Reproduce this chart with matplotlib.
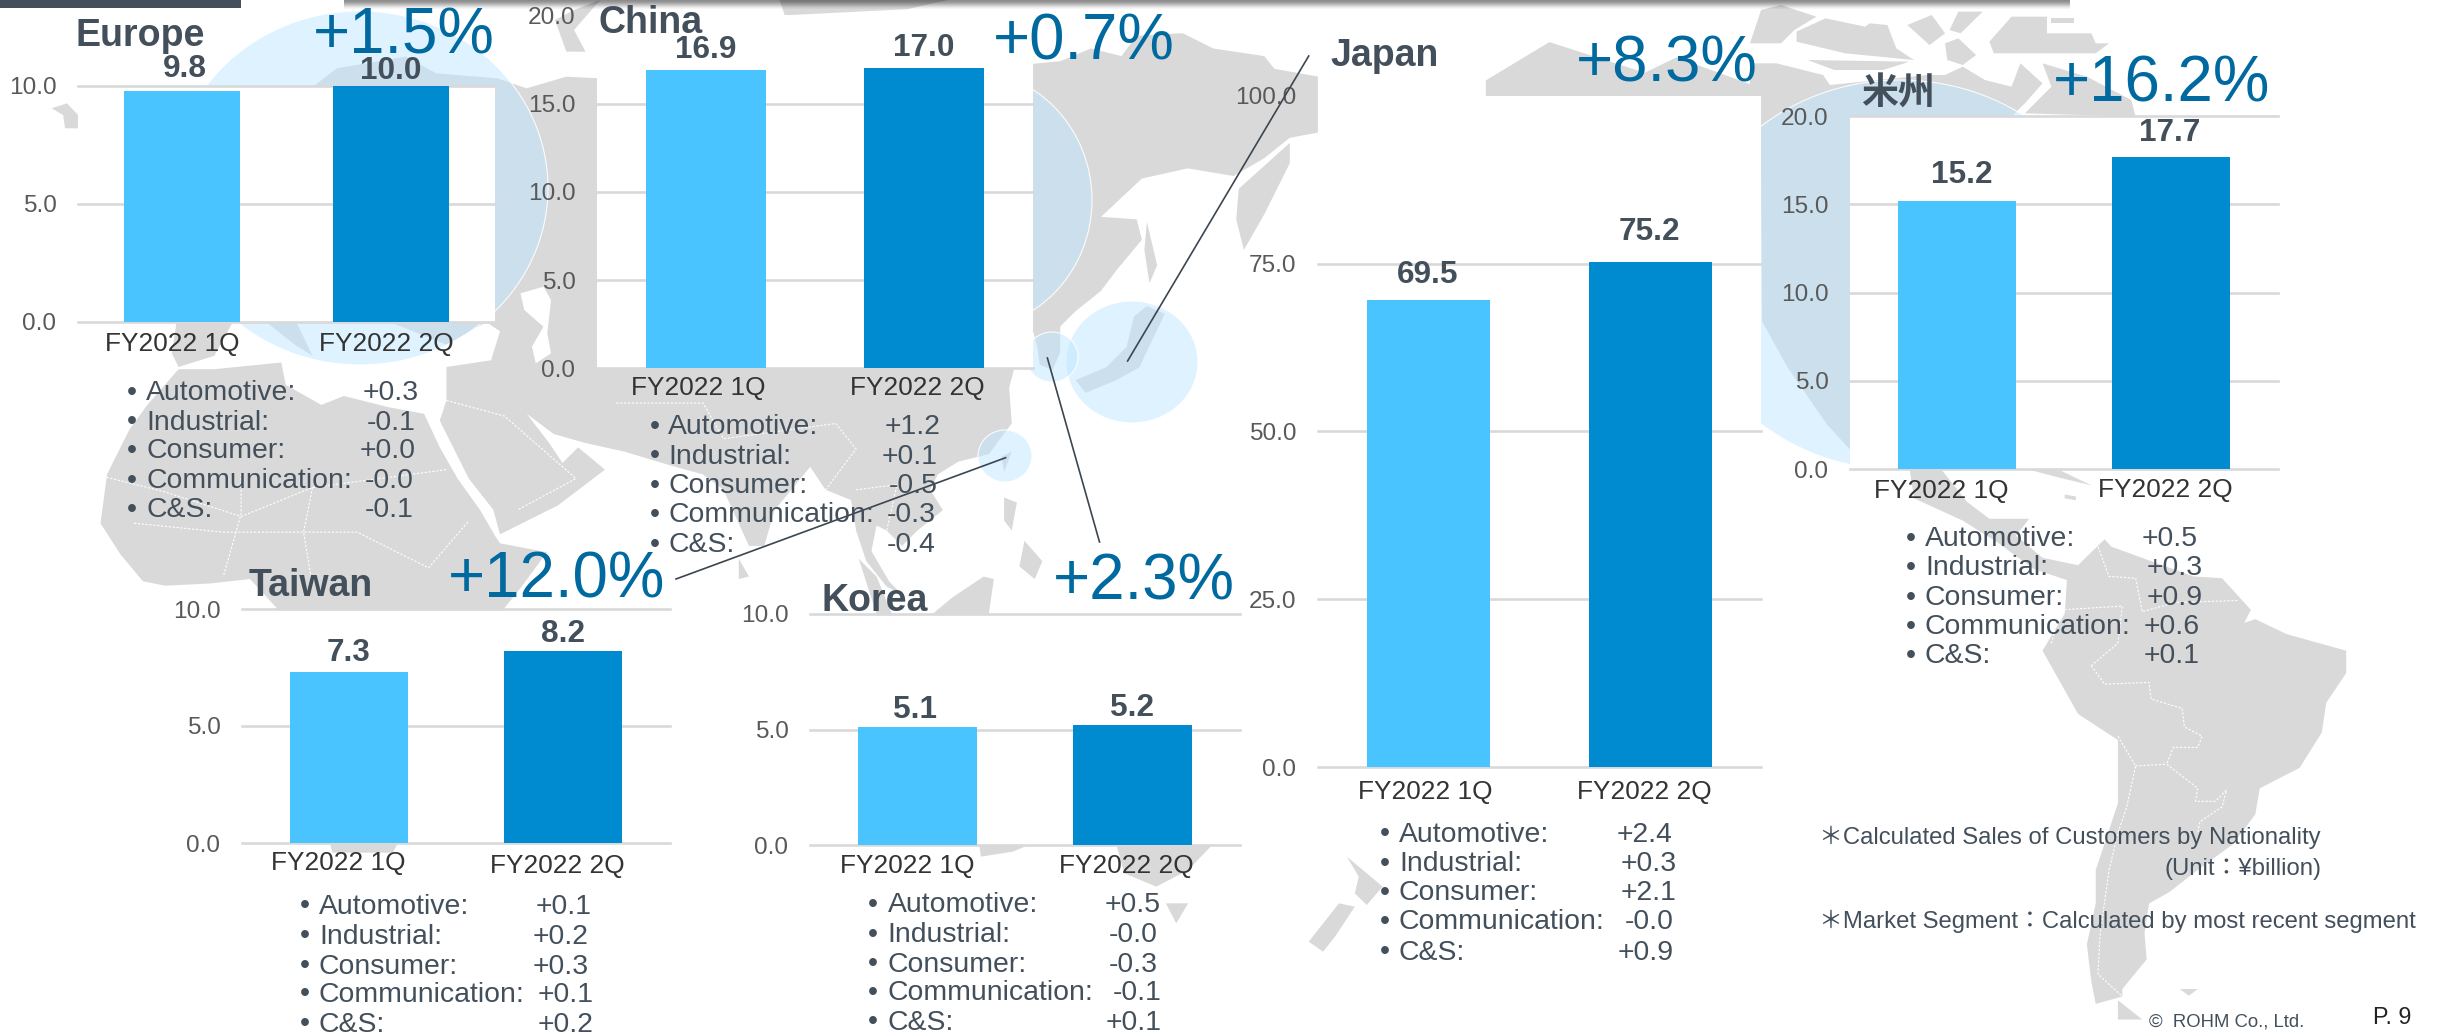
import matplotlib
matplotlib.use("Agg")
import matplotlib.pyplot as plt
from matplotlib.patches import Ellipse, Polygon, Rectangle

# ---------- data ----------
quarters = ["FY2022 1Q", "FY2022 2Q"]
segments = ["Automotive:", "Industrial:", "Consumer:", "Communication:", "C&S:"]

europe_sales = [9.8, 10.0]
china_sales = [16.9, 17.0]
japan_sales = [69.5, 75.2]
americas_sales = [15.2, 17.7]
taiwan_sales = [7.3, 8.2]
korea_sales = [5.1, 5.2]

europe_seg = ["+0.3", "-0.1", "+0.0", "-0.0", "-0.1"]
china_seg = ["+1.2", "+0.1", "-0.5", "-0.3", "-0.4"]
japan_seg = ["+2.4", "+0.3", "+2.1", "-0.0", "+0.9"]
americas_seg = ["+0.5", "+0.3", "+0.9", "+0.6", "+0.1"]
taiwan_seg = ["+0.1", "+0.2", "+0.3", "+0.1", "+0.2"]
korea_seg = ["+0.5", "-0.0", "-0.3", "-0.1", "+0.1"]

# ---------- style ----------
W, H = 2445, 1033
GREY, TXT, TICK, CAT = "#D9D9D9", "#434F5B", "#595959", "#333333"
BAR1, BAR2, PCT = "#4AC4FF", "#008BD0", "#00699F"
SANS = ["Liberation Sans", "Noto Sans CJK JP", "DejaVu Sans"]
plt.rcParams["font.family"] = SANS

fig = plt.figure(figsize=(W / 100, H / 100), dpi=100, facecolor="white")


def T(x, y, s, size, color=TXT, ha="left", va="center", weight="normal", family=None):
    fig.text(x / W, 1 - y / H, s, fontsize=size, color=color, ha=ha, va=va,
             fontweight=weight, family=family or SANS, zorder=10)


# ---------- decorative world map, in pixel space ----------
bg = fig.add_axes([0, 0, 1, 1], zorder=0)
bg.set_xlim(0, W)
bg.set_ylim(H, 0)
bg.axis("off")

Z5 = lambda p: [(x / 2.24, y / 2.24 + 300) for x, y in p]
Z6 = lambda p: [(550 + x / 1.96, y / 1.96) for x, y in p]
Z7 = lambda p: [(1750 + x / 2.256, y / 3) for x, y in p]
Z8 = lambda p: [(1750 + x / 2.256, 450 + y / 2.69) for x, y in p]
Z9 = lambda p: [(x / 2.613, y / 3) for x, y in p]
Z3 = lambda p: [(x / 1.254, 520 + y / 3) for x, y in p]
Z4 = lambda p: [(1200 + x / 1.2594, 520 + y / 3) for x, y in p]
Z2 = lambda p: [(1200 + x / 1.2594, y / 2.613) for x, y in p]

eurasia = (
    Z9([(820, 258), (880, 205), (1060, 170), (1140, 220), (1300, 235), (1376, 265), (1480, 230), (1568, 235)])
    + Z6([(300, 60), (947, 125), (1000, 120), (1060, 95), (1120, 110), (1150, 70), (1240, 65), (1300, 95),
          (1400, 110), (1420, 135), (1505, 150), (1505, 260), (1450, 270), (1400, 310), (1340, 345), (1250, 330),
          (1160, 350), (1080, 425), (1150, 430), (1160, 470), (1110, 530), (1080, 570), (1030, 610), (1000, 640),
          (1000, 690), (985, 725), (960, 715), (955, 680), (947, 650), (925, 690), (910, 722), (900, 760), (905, 830),
          (860, 890), (800, 905), (760, 930), (745, 960), (770, 1000), (720, 1040), (690, 1070), (660, 1040),
          (640, 1030), (630, 1080), (665, 1140), (690, 1165), (660, 1150), (620, 1100), (600, 1040), (590, 980),
          (540, 960), (510, 915), (440, 1000), (420, 1070), (390, 1070), (340, 960), (300, 930)])
    + Z5([(1500, 370), (1400, 340), (1310, 320), (1240, 300), (1180, 255), (1230, 320), (1260, 365), (1295, 330),
          (1355, 380), (1250, 460), (1120, 525), (1105, 470), (1050, 400), (1010, 320), (985, 270), (1000, 225), (1000, 150),
          (1100, 135), (1120, 70), (1090, 50)])
)
africa = Z5([(400, 155), (480, 155), (630, 140), (640, 190), (720, 235), (770, 215), (870, 240), (950, 255),
             (985, 330), (1025, 400), (1075, 470), (1110, 530), (1120, 545), (1225, 565), (1170, 640), (1130, 690), (1000, 1000),
             (880, 1238), (745, 1238), (620, 800), (620, 690), (560, 625), (470, 635), (370, 640), (320, 630),
             (270, 570), (225, 500), (240, 390), (290, 290), (330, 235)])
islands = [
    Z5([(395, 52), (520, 52), (480, 125), (400, 150), (385, 120)]),
    Z5([(600, 52), (665, 52), (700, 125), (660, 100)]),
    Z5([(880, 52), (1085, 52), (1000, 100), (950, 80)]),
    Z9([(135, 325), (175, 310), (204, 345), (204, 385), (170, 385), (165, 345)]),
    Z9([(1450, 60), (1500, 30), (1568, 0), (1500, 90), (1530, 155), (1480, 155)]),
    Z6([(450, 0), (780, 0), (700, 18), (460, 30)]),
    Z6([(1345, 430), (1350, 370), (1450, 280), (1450, 320), (1400, 420), (1360, 490)]),
    Z6([(1170, 435), (1190, 520), (1175, 555), (1165, 490)]),
    Z6([(1030, 745), (1090, 720), (1130, 680), (1145, 620), (1170, 600), (1205, 615), (1155, 720), (1110, 745), (1050, 770)]),
    Z6([(905, 885), (890, 925), (885, 895)]),
    Z6([(890, 975), (915, 985), (905, 1040), (890, 1020)]),
    Z6([(930, 1060), (965, 1100), (950, 1135), (920, 1110)]),
    Z6([(750, 1203), (790, 1170), (850, 1130), (870, 1135), (860, 1203)]),
    Z6([(605, 1095), (640, 1130), (670, 1203), (640, 1203)]),
    Z6([(370, 1095), (390, 1130), (370, 1135)]),
    # Alaska / Canada above the Japan panel
    Z2([(360, 210), (440, 110), (560, 190), (600, 150), (706, 230), (706, 255), (360, 255)]),
    # North America behind the Americas bubble
    Z2([(706, 280), (830, 280), (830, 1200), (790, 1110), (740, 960), (708, 840)]),
    # Canadian Arctic
    Z7([(25, 30), (70, 15), (150, 50), (100, 90), (70, 130), (0, 130)]),
    Z7([(105, 95), (170, 55), (260, 80), (270, 70), (310, 75), (330, 145), (370, 180), (215, 160), (105, 125)]),
    Z7([(130, 180), (360, 185), (300, 210), (190, 210)]),
    Z7([(0, 190), (60, 190), (165, 225), (180, 255), (400, 225), (440, 225), (480, 200), (530, 240), (590, 260),
        (610, 190), (660, 250), (620, 310), (590, 350), (25, 350), (0, 290)]),
    Z7([(540, 125), (590, 50), (670, 50), (670, 100), (770, 100), (780, 130), (810, 130), (780, 160), (700, 160), (550, 160)]),
    Z7([(440, 130), (470, 115), (510, 165), (480, 195), (445, 180)]),
    Z7([(355, 75), (410, 45), (440, 100), (405, 135)]),
    Z7([(450, 90), (470, 35), (525, 35), (475, 100)]),
    Z7([(680, 55), (730, 55), (730, 70), (680, 70)]),
    Z7([(620, 340), (680, 260), (660, 190), (760, 230), (860, 300), (870, 350)]),
    # Caribbean, Tierra del Fuego, Falklands
    Z8([(620, 50), (700, 55), (770, 95), (700, 75)]),
    Z8([(710, 120), (735, 125), (735, 135), (710, 130)]),
    Z8([(830, 1480), (885, 1532), (830, 1532)]),
    Z8([(970, 1450), (1010, 1450), (990, 1468)]),
    # Australia, Tasmania, New Zealand
    Z3([(1228, 975), (1290, 975), (1270, 995), (1230, 1010)]),
    Z3([(1400, 975), (1520, 975), (1490, 1050), (1450, 1100), (1410, 1060)]),
    Z3([(1462, 1150), (1490, 1150), (1475, 1210)]),
    Z4([(185, 1010), (215, 1070), (230, 1100), (210, 1155), (195, 1120), (200, 1070)]),
    Z4([(175, 1150), (195, 1160), (170, 1250), (155, 1295), (137, 1265)]),
]
americas = Z8([(360, 50), (430, 50), (490, 140), (540, 185), (630, 185), (600, 230), (660, 290), (740, 310), (800, 240),
               (815, 260), (1000, 340), (1065, 345), (1130, 430), (1115, 465), (1140, 455), (1210, 495), (1345, 540),
               (1345, 600), (1300, 680), (1290, 760), (1240, 855), (1150, 910), (1140, 980), (1090, 1060), (1010, 1130),
               (945, 1190), (900, 1220), (890, 1300), (895, 1370), (840, 1450), (840, 1470), (780, 1490), (770, 1430),
               (760, 1330), (780, 1220), (780, 1130), (830, 950), (830, 780), (740, 710), (660, 540), (710, 440),
               (715, 350), (640, 320), (560, 250), (480, 190), (370, 130)])
for poly in [eurasia, africa, americas] + islands:
    bg.add_patch(Polygon(poly, closed=True, fc=GREY, ec="none", zorder=1))
# Caspian Sea
bg.add_patch(Polygon(Z9([(1360, 880), (1420, 860), (1440, 900), (1430, 1000), (1440, 1060), (1400, 1090), (1390, 1040),
                         (1420, 980), (1370, 930)]), closed=True, fc="white", ec="none", zorder=1.1))

borders = [
    Z8([(770, 580), (800, 630), (900, 625), (905, 670), (975, 695), (980, 745), (1020, 770), (1010, 800), (955, 800),
        (940, 845), (1010, 910), (1005, 945), (1050, 945), (1075, 915), (1065, 960), (1015, 1000), (1010, 1030)]),
    Z8([(830, 770), (870, 850), (850, 960), (830, 1030), (810, 1130), (790, 1300), (785, 1410), (840, 1470)]),
    Z8([(870, 850), (940, 845)]),
    Z8([(785, 260), (810, 340), (870, 345), (885, 435), (960, 410), (1100, 405)]),
    Z8([(680, 520), (700, 430), (840, 420), (830, 520), (770, 580)]),
    Z5([(230, 395), (370, 430), (540, 485), (700, 420), (1000, 380)]),
    Z5([(300, 500), (500, 520), (690, 520), (800, 520), (960, 600), (1050, 495)]),
    Z5([(540, 390), (540, 480), (500, 620)]),
    Z5([(700, 420), (680, 520), (700, 640)]),
    Z5([(1000, 225), (1130, 260), (1290, 400), (1160, 470)]),
    Z6([(130, 790), (300, 790), (340, 860), (560, 830), (600, 880), (540, 960)]),
    Z6([(600, 960), (680, 950), (660, 1040)]),
]
for b in borders:
    bg.plot(*zip(*b), color="white", lw=0.8, ls=(0, (2, 1.5)), zorder=1.2)

# market bubbles
for cx, cy, rx, ry in [(360, 188, 188, 177), (967, 200, 125, 130), (1132, 362, 66, 61), (1052, 357, 26, 25),
                       (1005, 456, 27, 26), (1900, 275, 215, 195)]:
    bg.add_patch(Ellipse((cx, cy), 2 * rx, 2 * ry, fc=(0.75, 0.906, 1.0, 0.5), ec=(1, 1, 1, 0.9), lw=0.8, zorder=2))

# header bars
bg.add_patch(Rectangle((0, 0), 241, 8, fc=TXT, ec="none", zorder=3))
for i, a in enumerate([0.45, 0.42, 0.38, 0.32, 0.26, 0.2, 0.13, 0.08, 0.04]):
    bg.add_patch(Rectangle((344, i), 1726, 1, fc="black", alpha=a, ec="none", zorder=3))


# ---------- charts ----------
def chart(box, sales, ymax, step, hide_top=False):
    x0, y0, x1, y1 = box
    ax = fig.add_axes([x0 / W, 1 - y1 / H, (x1 - x0) / W, (y1 - y0) / H], zorder=1, facecolor="white")
    ax.bar([0, 1], sales, width=0.555, color=[BAR1, BAR2], zorder=3)
    ax.set_xlim(-0.5, 1.5)
    ax.set_ylim(0, ymax)
    ticks = [step * i for i in range(int(round(ymax / step)) + 1)]
    ax.set_yticks(ticks, [f"{t:.1f}" for t in ticks])
    ax.set_xticks([])
    ax.tick_params(axis="y", length=0, pad=15.5, labelsize=17.6, labelcolor=TICK)
    ax.grid(axis="y", color=GREY, lw=1.9, zorder=1)
    ax.set_axisbelow(True)
    for g in ax.get_ygridlines():
        g.set_clip_on(False)
    if hide_top:
        ax.get_ygridlines()[-1].set_visible(False)
    for s in ax.spines.values():
        s.set_visible(False)
    return ax


chart((78, 86, 495, 322), europe_sales, 10, 5)
chart((597, 15.3, 1033, 368.5), china_sales, 20, 5, hide_top=True)
chart((1318, 95.7, 1761, 767), japan_sales, 100, 25, hide_top=True)
chart((1850, 116, 2278, 469), americas_sales, 20, 5)
chart((242, 609, 670, 843), taiwan_sales, 10, 5)
chart((810, 614, 1240, 845), korea_sales, 10, 5)

# region titles
T(75.5, 46, "Europe", 27, va="baseline", weight="bold")
T(599, 33, "China", 27, va="baseline", weight="bold")
T(1330, 66, "Japan", 27, va="baseline", weight="bold")
T(1861, 105, "米州", 26.6, va="baseline", weight="bold", family=["Noto Sans CJK JP"])
T(249, 595.5, "Taiwan", 27, va="baseline", weight="bold")
T(822, 611, "Korea", 27, va="baseline", weight="bold")

# growth rates
for x, y, s in [(313, 53, "+1.5%"), (993, 60, "+0.7%"), (1576, 82, "+8.3%"), (2053, 101, "+16.2%"),
                (448, 597, "+12.0%"), (1053, 599.5, "+2.3%")]:
    T(x, y, s, 45.8, color=PCT, va="baseline")

# bar value labels
for (x1, y1, x2, y2), vals in [((185, 69, 391, 71), europe_sales), ((705.6, 49.5, 923.5, 48), china_sales),
                               ((1428, 274.6, 1649, 232), japan_sales), ((1962, 175, 2170, 133), americas_sales),
                               ((348, 653, 562.5, 634), taiwan_sales), ((915, 710, 1131.6, 708), korea_sales)]:
    T(x1, y1, f"{vals[0]:.1f}", 22.7, ha="center", weight="bold")
    T(x2, y2, f"{vals[1]:.1f}", 22.7, ha="center", weight="bold")

# category labels
for (x1, y1, x2, y2) in [(172, 344.5, 386.5, 344.5), (698, 387.5, 917, 387.5), (1425.5, 791.5, 1644.6, 791.5),
                         (1941, 491.5, 2165, 489.5), (338, 863, 557, 866.5), (907, 865.5, 1126, 865.5)]:
    T(x1, y1, quarters[0], 18.9, color=CAT, ha="center")
    T(x2, y2, quarters[1], 18.9, color=CAT, ha="center")

# segment lists
lists = [
    (132, 146, [390, 420, 449, 478.6, 507.6], [362.5, 367, 360, 365, 365], europe_seg),
    (654.6, 668, [424.5, 454, 483.7, 512.8, 542.3], [885, 881.6, 889, 886.7, 886.7], china_seg),
    (1385, 1399, [832, 861.7, 890.7, 919.3, 950], [1617, 1621, 1621, 1625, 1618], japan_seg),
    (1911, 1925, [536.6, 565.6, 595.4, 624.7, 653.3], [2142, 2147, 2147, 2143.6, 2143.6], americas_seg),
    (304.6, 319, [904, 934, 964, 992, 1022], [536, 533, 533, 537.5, 537.5], taiwan_seg),
    (873, 887.6, [902.7, 932.7, 962, 990.7, 1020], [1104.5, 1108.5, 1108.5, 1113, 1106], korea_seg),
]
for bx, lx, ys, vxs, vals in lists:
    for seg, y, vx, v in zip(segments, ys, vxs, vals):
        T(bx, y + 2.5, "•", 20.4, ha="center")
        T(lx, y + 2.5, seg, 20.4)
        T(vx, y + 2.5, v, 20.4)

# notes
T(1819, 837, "＊Calculated Sales of Customers by Nationality", 17.2)
T(2321, 869, "(Unit：¥billion)", 17.2, ha="right")
T(1819, 921, "＊Market Segment：Calculated by most recent segment", 17.2)
T(2149, 1021.6, "©  ROHM Co., Ltd.", 13.3)
T(2373, 1018, "P. 9", 16.8, color="#222222")

# leader lines
for (xa, ya, xb, yb) in [(1308.7, 56, 1127.6, 361), (1047.4, 358, 1099.5, 542), (1005.6, 457.7, 676, 579)]:
    fig.add_artist(plt.Line2D([xa / W, xb / W], [1 - ya / H, 1 - yb / H], color="#3C4650", lw=1.2, zorder=9))

fig.savefig("out.png", dpi=100)
